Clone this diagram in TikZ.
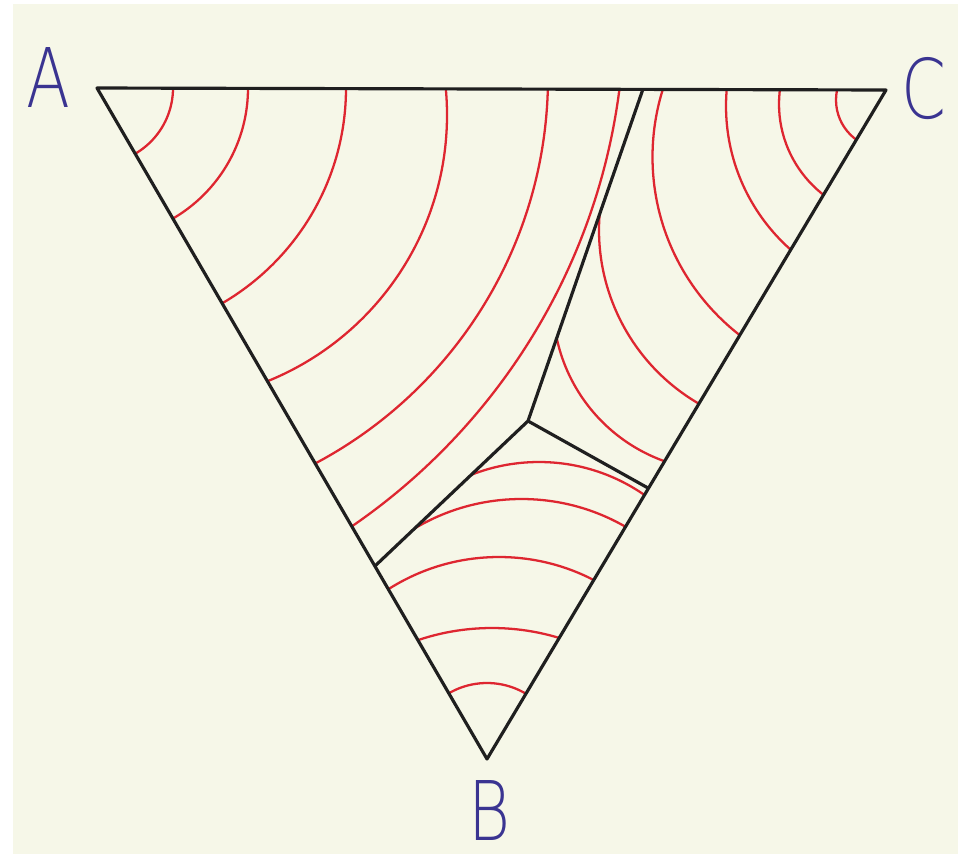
\documentclass[tikz,border=0pt]{standalone}
\usepackage{fontspec}
\usepackage{tikz}
\usetikzlibrary{positioning}
\newfontfamily\penfont{DejaVu Sans ExtraLight}
\definecolor{paper}{RGB}{246,247,232}
\definecolor{frontred}{RGB}{222,38,48}
\definecolor{penblue}{RGB}{58,52,145}
\tikzset{
  grain/.style={line width=0.9pt, black!88, line join=round},
  isoline/.style={line width=0.65pt, frontred},
  vlabel/.style={penblue, font=\penfont\fontsize{23.4}{24}\selectfont, xscale=0.78, inner sep=0pt},
}

\begin{document}
\begin{tikzpicture}[x=0.01cm, y=-0.01cm]
    \fill[white] (0,0) rectangle (958,854);
    \fill[paper] (13,4) rectangle (958,854);
    \useasboundingbox (0,0) rectangle (958,854);

    \coordinate (A) at (97,88);
    \coordinate (C) at (886,90);
    \coordinate (B) at (487,759);
    \coordinate (T) at (643,89);
    \coordinate (K) at (600,213);
    \coordinate (J) at (528,421);
    \coordinate (L) at (375,566);
    \coordinate (R) at (648,488);

    % fronts grown from A
    \begin{scope}
        \clip (A) -- (T) -- (K) -- (J) -- (L) -- cycle;
        \draw[isoline] (A) circle[radius=76];
        \draw[isoline] (A) circle[radius=151];
        \draw[isoline] (A) circle[radius=249];
        \draw[isoline] (160,115) circle[radius=287];
        \draw[isoline] (111,77) circle[radius=437];
        \draw[isoline] (-2.5,9) circle[radius=627];
    \end{scope}

    % fronts grown from C
    \begin{scope}
        \clip (T) -- (C) -- (R) -- (J) -- (K) -- cycle;
        \draw[isoline] (885,100) circle[radius=49];
        \draw[isoline] (894,104) circle[radius=115];
        \draw[isoline] (918,106) circle[radius=192];
        \draw[isoline] (878,157) circle[radius=225.5];
        \draw[isoline] (800,230) ++(118:201) arc[start angle=118, end angle=188, radius=201];
        \draw[isoline] (721,303) ++(105:168) arc[start angle=105, end angle=172, radius=168];
    \end{scope}

    % fronts grown from B
    \begin{scope}
        \clip (L) -- (J) -- (R) -- (B) -- cycle;
        \draw[isoline] (B) circle[radius=76];
        \draw[isoline] (492,859) circle[radius=231];
        \draw[isoline] (499,763) circle[radius=206];
        \draw[isoline] (521.5,707.6) circle[radius=208.6];
        \draw[isoline] (539,647) circle[radius=185];
    \end{scope}

    \draw[grain] (A) -- (C) -- (B) -- cycle;
    \draw[grain] (T) -- (K) -- (J) -- (L);
    \draw[grain] (J) -- (R);

    \node[vlabel] (labA) at (48,78) {A};
    \node[vlabel] (labC) at (924,89) {C};
    \node[vlabel] (labB) at (490,810) {B};
\end{tikzpicture}
\end{document}
